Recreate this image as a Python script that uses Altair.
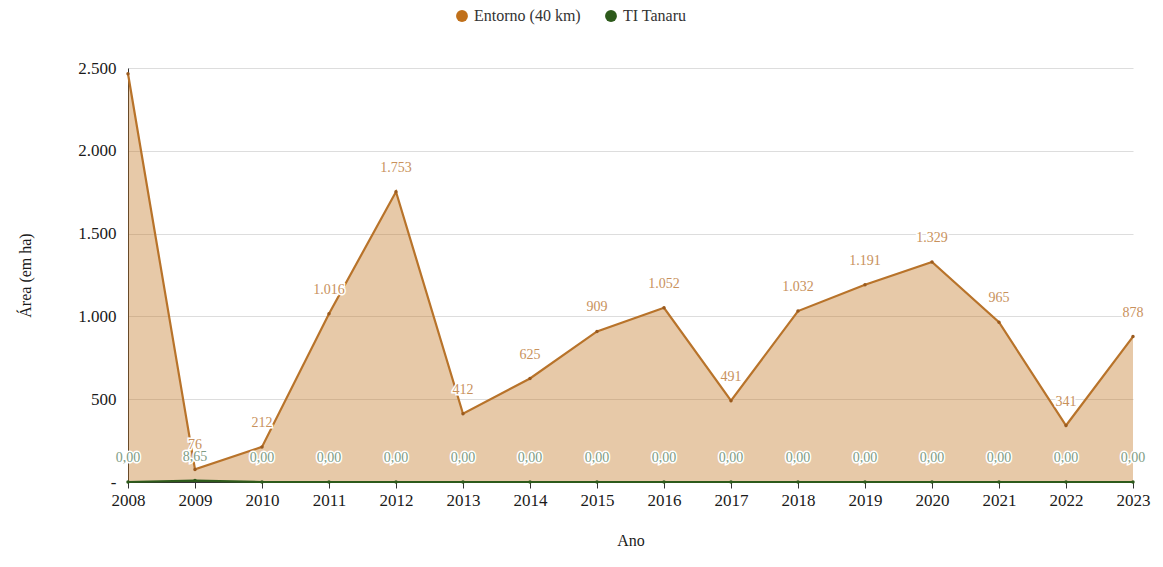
import altair as alt
import pandas as pd

years = list(range(2008, 2024))
entorno = [2465, 76, 212, 1016, 1753, 412, 625, 909, 1052, 491, 1032, 1191, 1329, 965, 341, 878]
tanaru = [0, 8.65, 0, 0, 0, 0, 0, 0, 0, 0, 0, 0, 0, 0, 0, 0]
series_names = ["Entorno (40 km)", "TI Tanaru"]
series_colors = ["#C0701A", "#2D5A1B"]


def fmt_int(v):
    return f"{int(round(v)):,}".replace(",", ".")


def fmt_dec(v):
    return f"{v:.2f}".replace(".", ",")


rows = []
for y, e, t in zip(years, entorno, tanaru):
    rows.append({"ano": y, "serie": series_names[0], "valor": e, "rotulo": fmt_int(e)})
    rows.append({"ano": y, "serie": series_names[1], "valor": t, "rotulo": fmt_dec(t)})
df = pd.DataFrame(rows)

FONT = "Liberation Serif"

x = alt.X(
    "ano:Q",
    scale=alt.Scale(domain=[2008, 2023], nice=False),
    axis=alt.Axis(
        values=years,
        format="d",
        title="Ano",
        grid=False,
        domainColor="#333",
        tickColor="#333",
        tickSize=6,
        labelPadding=4,
        labelFlush=False,
        labelOverlap=False,
        titlePadding=24,
    ),
)
y = alt.Y(
    "valor:Q",
    scale=alt.Scale(domain=[0, 2500], nice=False),
    axis=alt.Axis(
        values=[0, 500, 1000, 1500, 2000, 2500],
        labelExpr="datum.value == 0 ? '-' : replace(format(datum.value, ','), ',', '.')",
        title="Área (em ha)",
        grid=True,
        gridColor="#dddddd",
        domainColor="#333",
        ticks=False,
        labelPadding=12,
        labelFlush=False,
        titlePadding=44,
    ),
)
color = alt.Color(
    "serie:N",
    scale=alt.Scale(domain=series_names, range=series_colors),
    legend=alt.Legend(
        title=None,
        orient="none",
        direction="horizontal",
        legendX=326,
        legendY=-60,
        symbolType="circle",
        symbolSize=140,
        symbolOpacity=1,
        labelFontSize=16,
        labelFont=FONT,
        labelColor="#333",
        columnPadding=22,
    ),
)

base = alt.Chart(df)

area = base.mark_area(opacity=0.38, line=False).encode(
    x=x, y=alt.Y("valor:Q", stack=None, scale=alt.Scale(domain=[0, 2500], nice=False)), color=color
)
lines = base.mark_line(strokeWidth=2.2).encode(
    x=x, y=y, color=alt.Color("serie:N", scale=alt.Scale(domain=series_names, range=["#B8732A", "#2D5A1B"]), legend=None)
)
pts = base.mark_point(filled=True, size=12, opacity=1).encode(
    x=x, y=y, color=alt.Color("serie:N", scale=alt.Scale(domain=series_names, range=["#9A5A1E", "#2D5A1B"]), legend=None)
)

lab_df = base.transform_filter("!(datum.serie == 'Entorno (40 km)' && datum.ano == 2008)")
halo = lab_df.mark_text(dy=-24, fontSize=14, font=FONT, stroke="white", strokeWidth=3, fill="white").encode(
    x=x, y=y, text="rotulo:N"
)
labels = lab_df.mark_text(dy=-24, fontSize=14, font=FONT).encode(
    x=x,
    y=y,
    text="rotulo:N",
    color=alt.Color("serie:N", scale=alt.Scale(domain=series_names, range=["#C8915C", "#7E9C84"]), legend=None),
)

chart = (
    alt.layer(area, lines, pts, halo, labels)
    .resolve_scale(color="independent")
    .properties(width=1005, height=414, autosize=alt.AutoSizeParams(type="none"), padding={"left": 120, "top": 60, "right": 22, "bottom": 77})
    .configure_view(stroke=None)
    .configure_axis(labelFont=FONT, titleFont=FONT, labelFontSize=17, titleFontSize=16, labelColor="#1a1a1a", titleColor="#1a1a1a", titleFontWeight="normal")
)

chart.save("out.html", embed_options={"renderer": "svg", "actions": False})
